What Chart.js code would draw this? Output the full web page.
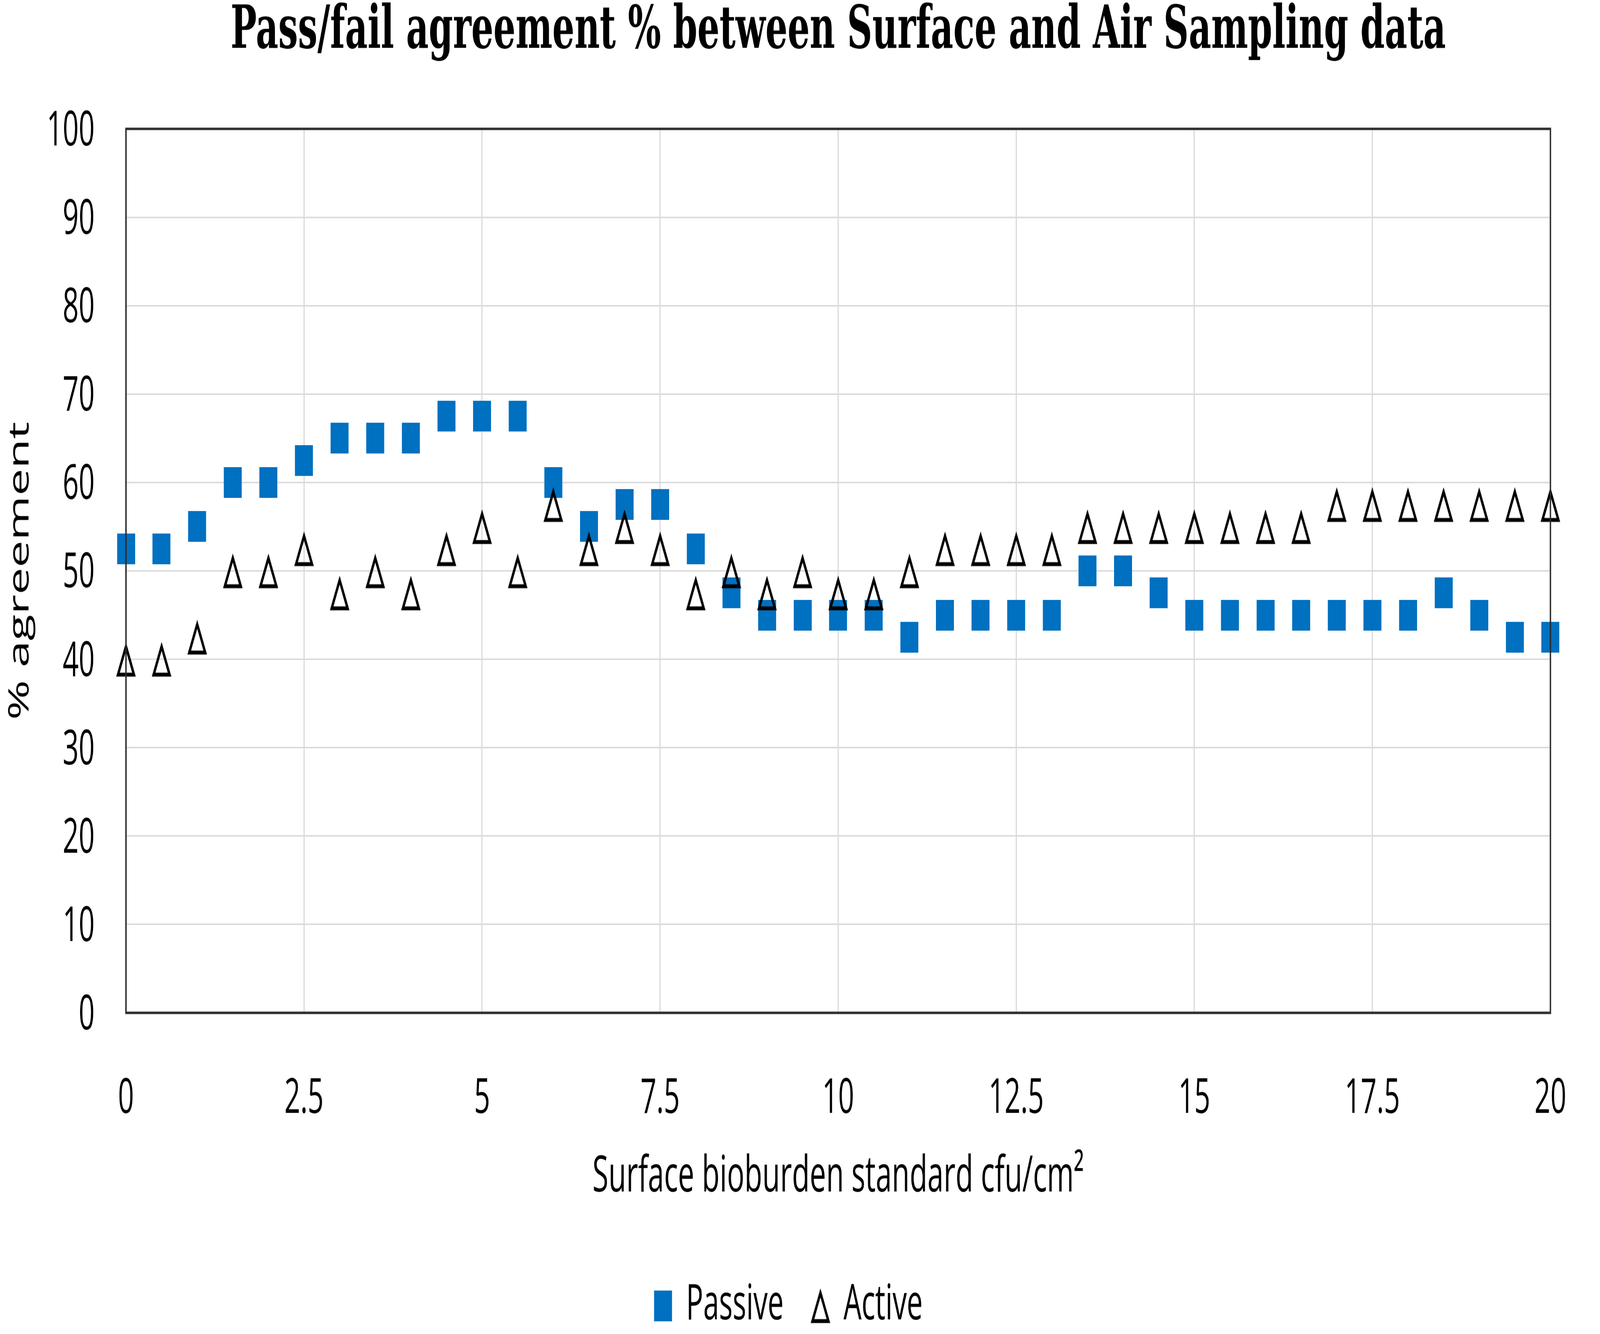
<!DOCTYPE html>
<html>
<head>
<meta charset="utf-8">
<script src="https://cdn.jsdelivr.net/npm/chart.js@4.4.1/dist/chart.umd.min.js"></script>
<style>
  html, body { margin: 0; padding: 0; background: #fff; overflow: hidden; }
  /* bitmap is drawn flat (5614x2733) and the browser stretches it to the window,
     like the source picture which is stretched vertically */
  #myChart { display: block; width: 100vw; height: 100vh; }
</style>
</head>
<body>
<canvas id="myChart" width="5614" height="2733" style="width:100vw;height:100vh"></canvas>
<script>
const titleText = "Pass/fail agreement % between Surface and Air Sampling data";
const xTitle = "Surface bioburden standard cfu/cm\u00B2";
const yTitle = "% agreement";

const xValues = [0, 0.5, 1, 1.5, 2, 2.5, 3, 3.5, 4, 4.5, 5, 5.5, 6, 6.5, 7, 7.5, 8, 8.5, 9, 9.5,
  10, 10.5, 11, 11.5, 12, 12.5, 13, 13.5, 14, 14.5, 15, 15.5, 16, 16.5, 17, 17.5, 18, 18.5, 19, 19.5, 20];

const passive = [52.5, 52.5, 55, 60, 60, 62.5, 65, 65, 65, 67.5, 67.5, 67.5, 60, 55, 57.5, 57.5, 52.5, 47.5, 45, 45,
  45, 45, 42.5, 45, 45, 45, 45, 50, 50, 47.5, 45, 45, 45, 45, 45, 45, 45, 47.5, 45, 42.5, 42.5];

const active = [40, 40, 42.5, 50, 50, 52.5, 47.5, 50, 47.5, 52.5, 55, 50, 57.5, 52.5, 55, 52.5, 47.5, 50, 47.5, 50,
  47.5, 47.5, 50, 52.5, 52.5, 52.5, 52.5, 55, 55, 55, 55, 55, 55, 55, 57.5, 57.5, 57.5, 57.5, 57.5, 57.5, 57.5];

const xTickValues = [0, 2.5, 5, 7.5, 10, 12.5, 15, 17.5, 20];
const yTickValues = [0, 10, 20, 30, 40, 50, 60, 70, 80, 90, 100];

// marker images
function squareMarker(size, color) {
  const c = document.createElement("canvas");
  c.width = size; c.height = size;
  const g = c.getContext("2d");
  g.fillStyle = color;
  g.fillRect(0, 0, size, size);
  return c;
}

function triangleMarker(size, lw) {
  const c = document.createElement("canvas");
  c.width = size; c.height = size;
  const g = c.getContext("2d");
  const m = size / 2;
  g.strokeStyle = "#000";
  g.lineWidth = lw;
  g.lineJoin = "miter";
  g.beginPath();
  g.moveTo(m, m - 26.3);
  g.lineTo(m + 28, m + 31.5);
  g.lineTo(m - 28, m + 31.5);
  g.closePath();
  g.stroke();
  return c;
}

const squareImg = squareMarker(63, "#0070c0");
const triImg = triangleMarker(84, 8);

const frame = {
  id: "frame",
  afterDatasetsDraw(chart) {
    const { ctx, chartArea } = chart;
    ctx.save();
    ctx.strokeStyle = "#2b2b2b";
    ctx.lineWidth = 5;
    ctx.strokeRect(chartArea.left, chartArea.top, chartArea.right - chartArea.left, chartArea.bottom - chartArea.top);
    ctx.restore();
  },
};

const textFont = "'Open Sans', sans-serif";

const ctx = document.getElementById("myChart");
const myChart = new Chart(ctx, {
  type: "scatter",
  data: {
    datasets: [
      {
        label: "Passive",
        data: xValues.map((x, i) => ({ x: x, y: passive[i] })),
        pointStyle: squareImg,
        backgroundColor: "#0070c0",
        borderColor: "#0070c0",
        clip: false,
        order: 1,
      },
      {
        label: "Active",
        data: xValues.map((x, i) => ({ x: x, y: active[i] })),
        pointStyle: triImg,
        backgroundColor: "rgba(0,0,0,0)",
        borderColor: "#000",
        clip: false,
        order: 0,
      },
    ],
  },
  options: {
    responsive: false,
    animation: false,
    devicePixelRatio: 1,
    layout: { padding: { left: 0, right: 81, top: 0, bottom: -2 } },
    plugins: {
      tooltip: { enabled: false },
      title: {
        display: true,
        fullSize: false,
        text: titleText,
        color: "#000",
        font: { family: "'DejaVu Serif', serif", weight: "bold", size: 122, lineHeight: 1 },
        padding: { top: 5, bottom: 137 },
      },
      legend: {
        position: "bottom",
        labels: {
          usePointStyle: true,
          pointStyleWidth: 62,
          color: "#000",
          font: { family: textFont, size: 100, lineHeight: 1 },
          padding: 98,
          sort: (a, b) => a.datasetIndex - b.datasetIndex,
        },
      },
    },
    scales: {
      x: {
        type: "linear",
        min: 0,
        max: 20,
        afterBuildTicks: (scale) => { scale.ticks = xTickValues.map((v) => ({ value: v })); },
        afterFit: (scale) => { scale.height = 452; },
        grid: { color: "#d9d9d9", lineWidth: 4, drawTicks: false },
        border: { display: false },
        ticks: { color: "#000", font: { family: textFont, size: 98 }, padding: 118, maxRotation: 0 },
        title: {
          display: true,
          text: xTitle,
          color: "#000",
          font: { family: textFont, size: 102, lineHeight: 1 },
          padding: { top: 0, bottom: 64 },
        },
      },
      y: {
        min: 0,
        max: 100,
        afterBuildTicks: (scale) => { scale.ticks = yTickValues.map((v) => ({ value: v })); },
        afterFit: (scale) => { scale.width = 442; },
        grid: { color: "#d9d9d9", lineWidth: 3, drawTicks: false },
        border: { display: false },
        ticks: { color: "#000", font: { family: textFont, size: 98 }, padding: 110, labelOffset: 6 },
        title: {
          display: true,
          text: yTitle,
          color: "#000",
          font: { family: textFont, size: 99, lineHeight: 1 },
          padding: { top: 22, bottom: 0 },
        },
      },
    },
  },
  plugins: [frame],
});
</script>
</body>
</html>
